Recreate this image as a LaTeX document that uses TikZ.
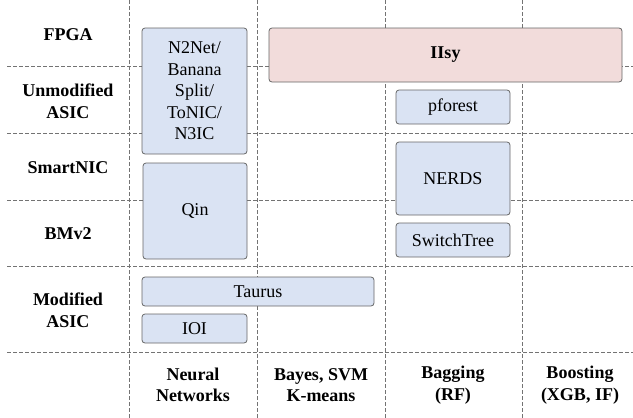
\documentclass[tikz,border=0pt]{standalone}
\usepackage{fontspec}
\setmainfont{Liberation Serif}
\definecolor{boxblue}{HTML}{DAE3F3}
\definecolor{boxpink}{HTML}{F2DCDB}
\definecolor{boxline}{HTML}{666666}
\tikzset{
  grid/.style={dashed,dash pattern=on 4pt off 2pt,black!55,line width=0.7pt},
  work/.style={draw=boxline,fill=boxblue,rounded corners=3pt,line width=0.8pt,inner sep=0pt,align=center},
  hot/.style={work,fill=boxpink,font=\bfseries},
  lab/.style={font=\bfseries,align=center}
}
\begin{document}
\begin{tikzpicture}[x=1pt,y=-1pt]
  \useasboundingbox (0,0) rectangle (633,418);
  \fontsize{18}{21.5}\selectfont
  % grid
  \foreach \y in {66,133,200,266,352}
    \draw[grid] (7,\y) -- (633,\y);
  \foreach \x in {129,257,385,522}
    \draw[grid] (\x,0) -- (\x,418);
  % rows
  \node[lab] (fpga) at (68,35) {FPGA};
  \node[lab] (unmod) at (68,101) {Unmodified\\ASIC};
  \node[lab] (snic) at (68,168) {SmartNIC};
  \node[lab] (bmv2) at (68,234) {BMv2};
  \node[lab] (mod) at (68,310) {Modified\\ASIC};
  % columns
  \node[lab] (nn) at (193,385) {Neural\\Networks};
  \node[lab] (bayes) at (321,385) {Bayes, SVM\\K-means};
  \node[lab] (bag) at (453,385) {Bagging\\(RF)};
  \node[lab] (boost) at (580,385) {Boosting\\(XGB, IF)};
  % works
  \node[work,minimum width=105pt,minimum height=126pt] (n2net) at (194.5,91) {N2Net/\\Banana\\Split/\\ToNIC/\\N3IC};
  \node[hot,minimum width=353pt,minimum height=54pt] (iisy) at (445.5,55) {IIsy};
  \node[work,minimum width=114pt,minimum height=34pt] (pforest) at (453,107) {pforest};
  \node[work,minimum width=114pt,minimum height=73pt] (nerds) at (453,178.5) {NERDS};
  \node[work,minimum width=114pt,minimum height=34pt] (stree) at (453,240) {SwitchTree};
  \node[work,minimum width=104pt,minimum height=96pt] (qin) at (195,211) {Qin};
  \node[work,minimum width=232pt,minimum height=29pt] (taurus) at (258,291.5) {Taurus};
  \node[work,minimum width=105pt,minimum height=29pt] (ioi) at (194.5,328.5) {IOI};
\end{tikzpicture}
\end{document}
